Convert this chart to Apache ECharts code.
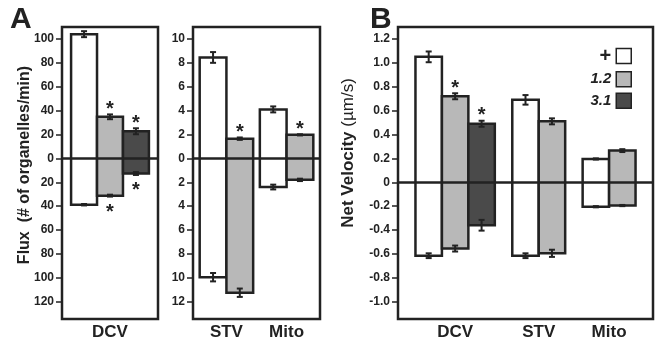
<!DOCTYPE html>
<html>
<head>
<meta charset="utf-8">
<script src="https://cdn.jsdelivr.net/npm/echarts@6/dist/echarts.min.js"></script>
<style>
  html, body { margin: 0; padding: 0; background: #fff; }
  #chart { width: 657px; height: 341px; }
</style>
</head>
<body>
<div id="chart"></div>
<script>
const treatments = ["+", "1.2", "3.1"];
const fills = ["#ffffff", "#b8b8b8", "#4a4a4a"];

// panel A, left: DCV flux (anterograde up, retrograde down)
const dcvFluxUp = [104, 34.8, 22.7];
const dcvFluxUpErr = [2.5, 2, 2.5];
const dcvFluxDown = [-38.8, -31.2, -12.7];
const dcvFluxDownErr = [0.6, 0.8, 1.2];
const dcvFluxUpSig = [0, 1, 1];
const dcvFluxDownSig = [0, 1, 1];

// panel A, right: STV and Mito flux
const stvFluxUp = [8.45, 1.65];
const stvFluxUpErr = [0.45, 0.1];
const stvFluxDown = [-9.95, -11.25];
const stvFluxDownErr = [0.35, 0.35];
const stvFluxUpSig = [0, 1];
const mitoFluxUp = [4.1, 1.97];
const mitoFluxUpErr = [0.25, 0.05];
const mitoFluxDown = [-2.4, -1.8];
const mitoFluxDownErr = [0.2, 0.1];
const mitoFluxUpSig = [0, 1];

// panel B: net velocity
const dcvVelUp = [1.05, 0.72, 0.49];
const dcvVelUpErr = [0.045, 0.025, 0.025];
const dcvVelDown = [-0.615, -0.555, -0.36];
const dcvVelDownErr = [0.02, 0.025, 0.045];
const dcvVelUpSig = [0, 1, 1];
const stvVelUp = [0.69, 0.51];
const stvVelUpErr = [0.04, 0.025];
const stvVelDown = [-0.615, -0.595];
const stvVelDownErr = [0.02, 0.03];
const mitoVelUp = [0.195, 0.265];
const mitoVelUpErr = [0.005, 0.012];
const mitoVelDown = [-0.205, -0.195];
const mitoVelDownErr = [0.005, 0.005];

const fluxTicksBig = [100, 80, 60, 40, 20, 0, -20, -40, -60, -80, -100, -120];
const fluxTicksSmall = [10, 8, 6, 4, 2, 0, -2, -4, -6, -8, -10, -12];
const velTicks = [1.2, 1.0, 0.8, 0.6, 0.4, 0.2, 0, -0.2, -0.4, -0.6, -0.8, -1.0];

const ink = "#222";
const font = "Liberation Sans";
const none = [0, 0, 0];

const panels = [
  {
    grid: { left: 62, top: 27, width: 96, height: 292 },
    yMin: -134.5, yMax: 110, ticks: fluxTicksBig, gap: 0.35,
    fmt: (v) => String(Math.abs(v)),
    groups: [
      { label: "DCV", up: dcvFluxUp, upErr: dcvFluxUpErr, down: dcvFluxDown, downErr: dcvFluxDownErr, upSig: dcvFluxUpSig, downSig: dcvFluxDownSig },
    ],
  },
  {
    grid: { left: 193, top: 27, width: 127, height: 292 },
    yMin: -13.45, yMax: 11, ticks: fluxTicksSmall, gap: 0.25,
    fmt: (v) => String(Math.abs(v)),
    groups: [
      { label: "STV", up: stvFluxUp, upErr: stvFluxUpErr, down: stvFluxDown, downErr: stvFluxDownErr, upSig: stvFluxUpSig, downSig: none },
      { label: "Mito", up: mitoFluxUp, upErr: mitoFluxUpErr, down: mitoFluxDown, downErr: mitoFluxDownErr, upSig: mitoFluxUpSig, downSig: none },
    ],
  },
  {
    grid: { left: 398, top: 27, width: 255, height: 292 },
    yMin: -1.145, yMax: 1.3, ticks: velTicks, gap: 0.66,
    fmt: (v) => (v === 0 ? "0" : v.toFixed(1)),
    groups: [
      { label: "DCV", up: dcvVelUp, upErr: dcvVelUpErr, down: dcvVelDown, downErr: dcvVelDownErr, upSig: dcvVelUpSig, downSig: none },
      { label: "STV", up: stvVelUp, upErr: stvVelUpErr, down: stvVelDown, downErr: stvVelDownErr, upSig: none, downSig: none },
      { label: "Mito", up: mitoVelUp, upErr: mitoVelUpErr, down: mitoVelDown, downErr: mitoVelDownErr, upSig: none, downSig: none },
    ],
  },
];

const grids = [];
const xAxes = [];
const yAxes = [];
const series = [];

// one box per bar, from the retrograde value up to the anterograde value
const boxRenderer = (fill) => (params, api) => {
  const x = api.value(0);
  const a = api.coord([x - 0.5, api.value(1)]);
  const b = api.coord([x + 0.5, api.value(2)]);
  return {
    type: "rect",
    shape: { x: a[0], y: a[1], width: b[0] - a[0], height: b[1] - a[1] },
    style: { fill, stroke: ink, lineWidth: 2.5 },
  };
};

const errorBars = (params, api) => {
  const x = api.value(0);
  const v = api.value(1);
  const e = api.value(2);
  const sig = api.value(3);
  const top = api.coord([x, v + e]);
  const bot = api.coord([x, v - e]);
  const cap = 3;
  const style = { stroke: ink, lineWidth: 2 };
  const children = [
    { type: "line", shape: { x1: top[0], y1: top[1], x2: bot[0], y2: bot[1] }, style },
    { type: "line", shape: { x1: top[0] - cap, y1: top[1], x2: top[0] + cap, y2: top[1] }, style },
    { type: "line", shape: { x1: bot[0] - cap, y1: bot[1], x2: bot[0] + cap, y2: bot[1] }, style },
  ];
  if (sig) {
    const y = v > 0 ? top[1] - 5 : bot[1] + 16;
    children.push({
      type: "text",
      x: top[0],
      y,
      style: { text: "*", fill: ink, font: `bold 20px "${font}"`, align: "center", verticalAlign: "middle" },
    });
  }
  return { type: "group", children };
};

panels.forEach((p, gi) => {
  // lay the bars out side by side, one unit wide, with a gap around each group
  let pos = p.gap;
  const centers = [];
  const labels = {};
  const boxes = treatments.map(() => []);
  const errs = [];
  p.groups.forEach((g) => {
    const start = pos;
    g.up.forEach((v, i) => {
      const cx = pos + 0.5;
      boxes[i].push([cx, v, g.down[i]]);
      errs.push([cx, v, g.upErr[i], g.upSig[i]]);
      errs.push([cx, g.down[i], g.downErr[i], g.downSig[i]]);
      pos += 1;
    });
    const mid = (start + pos) / 2;
    centers.push(mid);
    labels[mid.toFixed(4)] = g.label;
    pos += p.gap;
  });
  const total = pos;

  grids.push({
    ...p.grid,
    show: true,
    borderColor: ink,
    borderWidth: 2.5,
    backgroundColor: "transparent",
  });

  xAxes.push({
    type: "value",
    gridIndex: gi,
    min: 0,
    max: total,
    axisLine: { show: false },
    axisTick: { show: false },
    splitLine: { show: false },
    axisLabel: {
      customValues: centers,
      formatter: (v) => labels[v.toFixed(4)] || "",
      color: ink,
      fontFamily: font,
      fontWeight: "bold",
      fontSize: 17,
      margin: 5,
    },
  });

  yAxes.push({
    type: "value",
    gridIndex: gi,
    min: p.yMin,
    max: p.yMax,
    axisLine: { show: false },
    splitLine: { show: false },
    axisTick: {
      show: true,
      customValues: p.ticks,
      length: 6,
      lineStyle: { color: ink, width: 1.5 },
    },
    axisLabel: {
      customValues: p.ticks,
      formatter: p.fmt,
      color: ink,
      fontFamily: font,
      fontWeight: "bold",
      fontSize: 12,
      margin: 8,
    },
  });

  treatments.forEach((name, i) => {
    if (!boxes[i].length) return;
    series.push({
      name,
      type: "custom",
      xAxisIndex: gi,
      yAxisIndex: gi,
      data: boxes[i],
      encode: { x: 0, y: [1, 2] },
      itemStyle: { color: fills[i], borderColor: ink, borderWidth: 1.5 },
      renderItem: boxRenderer(fills[i]),
      z: 2,
    });
  });

  series.push({
    name: "err" + gi,
    type: "custom",
    xAxisIndex: gi,
    yAxisIndex: gi,
    data: errs,
    encode: { x: 0, y: 1 },
    renderItem: errorBars,
    z: 5,
    markLine: {
      silent: true,
      symbol: ["none", "none"],
      label: { show: false },
      lineStyle: { color: ink, width: 2.5, type: "solid" },
      data: [{ yAxis: 0 }],
    },
  });
});

const chart = echarts.init(document.getElementById("chart"), null, { renderer: "canvas" });
chart.setOption({
  animation: false,
  backgroundColor: "#fff",
  textStyle: { fontFamily: font },
  grid: grids,
  xAxis: xAxes,
  yAxis: yAxes,
  legend: {
    data: treatments,
    orient: "vertical",
    right: 20,
    top: 41,
    align: "right",
    icon: "rect",
    itemWidth: 15,
    itemHeight: 15,
    itemGap: 5,
    selectedMode: false,
    itemStyle: { borderWidth: 1.5, borderColor: ink },
    formatter: (name) => (name === "+" ? "{p|+}" : "{i|" + name + "}"),
    textStyle: {
      color: ink,
      rich: {
        p: { fontSize: 20, fontWeight: "bold", color: ink, fontFamily: font },
        i: { fontSize: 15, fontWeight: "bold", fontStyle: "italic", color: ink, fontFamily: font },
      },
    },
  },
  graphic: [
    { type: "text", left: 10, top: 5, style: { text: "A", fill: ink, font: `bold 30px "${font}"` } },
    { type: "text", left: 370, top: 5, style: { text: "B", fill: ink, font: `bold 30px "${font}"` } },
    {
      type: "text",
      x: 25,
      y: 165,
      rotation: Math.PI / 2,
      style: { text: "Flux  (# of organelles/min)", fill: ink, font: `bold 16px "${font}"`, align: "center", verticalAlign: "middle" },
    },
    {
      type: "text",
      x: 348,
      y: 153,
      rotation: Math.PI / 2,
      style: {
        text: "Net Velocity {u|(µm/s)}",
        fill: ink,
        font: `bold 17px "${font}"`,
        align: "center",
        verticalAlign: "middle",
        rich: { u: { fontSize: 17, fontWeight: "normal", fill: ink, fontFamily: font } },
      },
    },
  ],
  series,
});
</script>
</body>
</html>
